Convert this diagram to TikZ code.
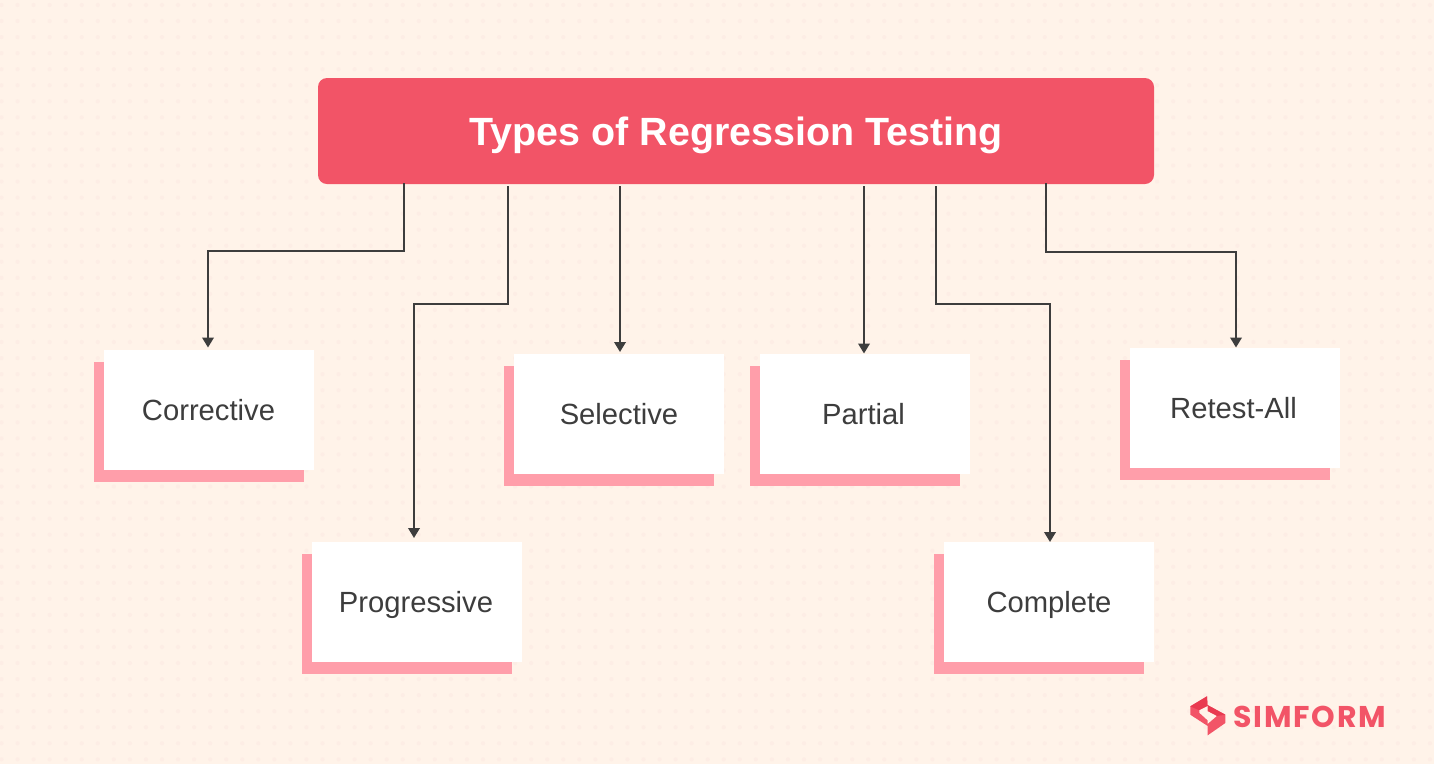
\documentclass[tikz,border=0pt]{standalone}
\usepackage{fontspec}
\setmainfont{Liberation Sans}
\newfontfamily\logofont[LetterSpace=6]{Poppins Bold}
\usetikzlibrary{arrows.meta}
\definecolor{bgc}{HTML}{FFF3E9}
\definecolor{dotc}{HTML}{FDEDE5}
\definecolor{redc}{HTML}{F25467}
\definecolor{pinkc}{HTML}{FF9EAA}
\definecolor{linec}{HTML}{3D3D3D}
\definecolor{logodark}{HTML}{E93A50}
\tikzset{
  cardbox/.style={fill=white,minimum width=210pt,minimum height=120pt,inner sep=0pt,text height=20pt,text depth=0pt,text=linec,font=\fontsize{29.2}{32}\selectfont},
  shadowbox/.style={fill=pinkc},
  titlebox/.style={fill=redc,rounded corners=9pt,minimum width=836pt,minimum height=106pt,inner sep=0pt,text height=28pt,text depth=0pt,text=white,font=\fontsize{39.4}{44}\selectfont\bfseries},
  conn/.style={draw=linec,line width=2.1pt,-{Triangle[length=10pt,width=11.5pt]}},
}
\begin{document}
\begin{tikzpicture}[x=1pt,y=-1pt]
\useasboundingbox (0,0) rectangle (1434,764);
\fill[bgc] (0,0) rectangle (1434,764);
\foreach \i in {0,...,89}{\foreach \j in {0,...,47}{
  \fill[dotc] (1.5+16.05*\i,5+16.05*\j) circle (2.1pt);
}}
\node[titlebox] (title) at (736,131) {Types of Regression Testing};
\foreach \n/\cx/\cy/\o/\t in {cor/209/410/-1/Corrective,pro/417/602/-2/Progressive,sel/619/414/0/Selective,par/865/414/-3/Partial,com/1049/602/0/Complete,ret/1235/408/-3/Retest-All}{
  \fill[shadowbox] (\cx-115,\cy-48) rectangle (\cx+95,\cy+72);
  \node[cardbox] (\n) at (\cx,\cy) {\hspace*{\o pt}\t};
}
\coordinate (s1) at (404,183);
\coordinate (s2) at (508,186);
\coordinate (s3) at (620,186);
\coordinate (s4) at (864,186);
\coordinate (s5) at (936,186);
\coordinate (s6) at (1046,183);
\coordinate (e1) at (208,347.5);
\coordinate (e2) at (414,538);
\coordinate (e3) at (620,352);
\coordinate (e4) at (864,353.5);
\coordinate (e5) at (1050,542);
\coordinate (e6) at (1236,347.5);
\draw[conn] (s1) -- (404,251) -- (208,251) -- (e1);
\draw[conn] (s2) -- (508,304) -- (414,304) -- (e2);
\draw[conn] (s3) -- (e3);
\draw[conn] (s4) -- (e4);
\draw[conn] (s5) -- (936,304) -- (1050,304) -- (e5);
\draw[conn] (s6) -- (1046,252) -- (1236,252) -- (e6);
% logo
\fill[redc] (1190.3,706.3) -- (1207,696.3) -- (1207.5,705) -- (1225.3,714.7) -- (1225.3,723) -- (1207.7,735.3) -- (1207.7,726) -- (1190.3,714.7) -- cycle;
\fill[logodark] (1190.3,706.3) -- (1207,696.3) -- (1207.5,706) -- (1199.3,710.3) -- cycle;
\fill[logodark] (1207.5,705) -- (1225.3,714.7) -- (1216.7,716) -- (1207.7,711.3) -- cycle;
\fill[bgc] (1199.3,710.3) -- (1207.7,706) -- (1207.7,711.3) -- (1216.7,716) -- (1207.7,723.7) -- (1207.7,720.3) -- (1199.3,712.7) -- cycle;
\node[anchor=west,inner sep=0pt,text=redc,font=\logofont\fontsize{30}{34}\selectfont] (logo) at (1233,717) {SIMFORM};
\end{tikzpicture}
\end{document}
